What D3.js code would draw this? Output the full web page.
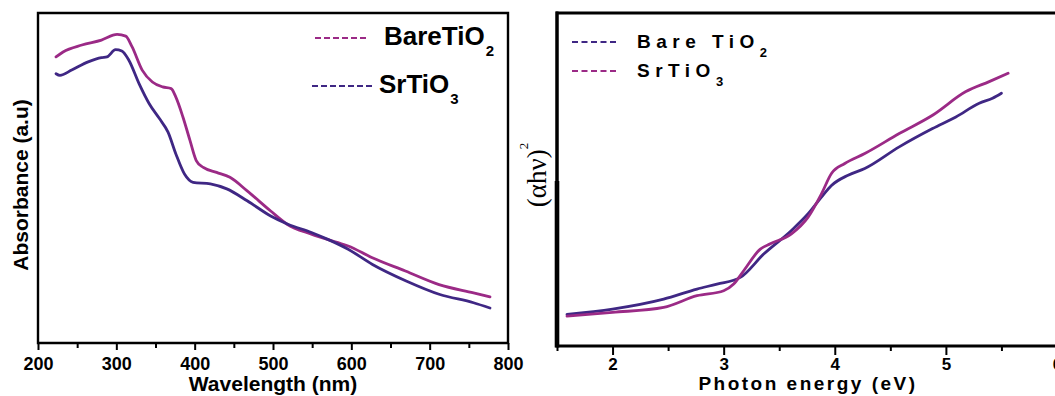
<!DOCTYPE html>
<html>
<head>
<meta charset="utf-8">
<script src="https://cdn.jsdelivr.net/npm/d3@7"></script>
<style>
body { margin: 0; background: #fff; }
svg { display: block; font-family: Arial, "Liberation Sans", sans-serif; }
</style>
</head>
<body>
<svg width="1055" height="396"></svg>
<script>
// Left panel: UV-Vis absorbance spectra
const wavelengthBare = [223, 232, 256, 281, 301, 312, 320, 333, 346, 359, 370, 376, 385, 394, 402, 411, 428, 445, 467, 497, 518, 549, 583, 596, 626, 669, 712, 756, 777];
const absorbanceBare = [0.867, 0.882, 0.903, 0.918, 0.935, 0.930, 0.898, 0.827, 0.791, 0.776, 0.771, 0.745, 0.685, 0.614, 0.553, 0.532, 0.517, 0.502, 0.461, 0.400, 0.360, 0.330, 0.304, 0.294, 0.259, 0.218, 0.177, 0.152, 0.140];
const wavelengthSr = [223, 228, 243, 264, 281, 288, 299, 307, 316, 329, 342, 355, 366, 376, 387, 398, 420, 441, 467, 497, 519, 549, 570, 596, 627, 670, 713, 756, 777];
const absorbanceSr = [0.816, 0.811, 0.827, 0.852, 0.865, 0.867, 0.889, 0.885, 0.857, 0.786, 0.725, 0.680, 0.639, 0.573, 0.512, 0.487, 0.482, 0.467, 0.431, 0.385, 0.360, 0.335, 0.314, 0.284, 0.238, 0.188, 0.147, 0.122, 0.106];
const wavelengthTicks = [200, 300, 400, 500, 600, 700, 800];
const wavelengthMinor = [250, 350, 450, 550, 650, 750];

// Right panel: Tauc plot
const energyBare = [1.59, 2.0, 2.46, 2.76, 2.94, 3.15, 3.36, 3.61, 3.76, 3.88, 3.97, 4.12, 4.27, 4.58, 4.88, 5.09, 5.30, 5.42, 5.50];
const taucBare = [0.095, 0.111, 0.141, 0.171, 0.186, 0.206, 0.276, 0.347, 0.397, 0.447, 0.482, 0.513, 0.533, 0.598, 0.653, 0.688, 0.729, 0.744, 0.759];
const energySr = [1.59, 2.0, 2.46, 2.76, 3.0, 3.09, 3.18, 3.33, 3.42, 3.61, 3.76, 3.88, 3.97, 4.09, 4.27, 4.58, 4.88, 5.18, 5.39, 5.56];
const taucSr = [0.090, 0.101, 0.116, 0.151, 0.166, 0.186, 0.226, 0.291, 0.307, 0.337, 0.387, 0.457, 0.518, 0.548, 0.578, 0.638, 0.693, 0.764, 0.794, 0.819];
const energyTicks = [2, 3, 4, 5, 6];
const energyMinor = [1.5, 2.5, 3.5, 4.5, 5.5];

const magenta = '#9b2a86';
const indigo = '#3f2784';

const svg = d3.select('svg');

function zip(xs, ys)
{
    return xs.map((x, i) => [x, ys[i]]);
}

function drawCurve(x, y, points, color)
{
    const line = d3.line()
        .x(d => x(d[0]))
        .y(d => y(d[1]))
        .curve(d3.curveMonotoneX);
    svg.append('path')
        .datum(points)
        .attr('d', line)
        .attr('fill', 'none')
        .attr('stroke', color)
        .attr('stroke-width', 2.8)
        .attr('stroke-linejoin', 'round')
        .attr('stroke-linecap', 'round');
}

function box(x0, y0, x1, y1, width)
{
    svg.append('path')
        .attr('d', 'M' + x0 + ',' + y0 + 'H' + x1 + 'V' + y1 + 'H' + x0 + 'Z')
        .attr('fill', 'none')
        .attr('stroke', '#000')
        .attr('stroke-width', width);
}

function bar(x, y, w, h)
{
    svg.append('rect')
        .attr('x', x).attr('y', y)
        .attr('width', w).attr('height', h)
        .attr('fill', '#000');
}

function drawAxis(x, yPos, ticks, minor, tickLen, padding, fontSize)
{
    const major = svg.append('g')
        .attr('transform', 'translate(0,' + yPos + ')')
        .call(d3.axisBottom(x).tickValues(ticks).tickSize(tickLen).tickSizeOuter(0).tickPadding(padding).tickFormat(d3.format('d')));
    major.select('.domain').remove();
    major.selectAll('line').attr('stroke', '#000').attr('stroke-width', 2);
    major.selectAll('text')
        .attr('fill', '#000')
        .style('font-size', fontSize + 'px')
        .style('font-weight', 'bold')
        .style('font-family', 'Arial, "Liberation Sans", sans-serif');

    const small = svg.append('g')
        .attr('transform', 'translate(0,' + yPos + ')')
        .call(d3.axisBottom(x).tickValues(minor).tickSize(5).tickSizeOuter(0).tickFormat(''));
    small.select('.domain').remove();
    small.selectAll('line').attr('stroke', '#000').attr('stroke-width', 2);
}

function legendEntry(x1, x2, yLine, color, dash, tx, ty, label, sub, opts)
{
    svg.append('line')
        .attr('x1', x1).attr('x2', x2)
        .attr('y1', yLine).attr('y2', yLine)
        .attr('stroke', color)
        .attr('stroke-width', 2.2)
        .attr('stroke-dasharray', dash);
    const t = svg.append('text')
        .attr('x', tx).attr('y', ty)
        .attr('fill', '#000')
        .style('font-size', opts.size + 'px')
        .style('font-weight', 'bold')
        .style('letter-spacing', opts.spacing + 'px')
        .text(label);
    t.append('tspan')
        .attr('dx', opts.subDx)
        .attr('dy', opts.subDy)
        .style('font-size', opts.subSize + 'px')
        .text(sub);
}

// ---- left panel ----
const xL = d3.scaleLinear().domain([200, 800]).range([38, 508]);
const yL = d3.scaleLinear().domain([0, 1]).range([343, 13]);

drawCurve(xL, yL, zip(wavelengthBare, absorbanceBare), magenta);
drawCurve(xL, yL, zip(wavelengthSr, absorbanceSr), indigo);

box(xL(200), yL(1), xL(800), yL(0), 2.4);

drawAxis(xL, 343, wavelengthTicks, wavelengthMinor, 7, 7, 18);

svg.append('text')
    .attr('x', 273).attr('y', 391)
    .attr('text-anchor', 'middle')
    .style('font-size', '21px')
    .style('font-weight', 'bold')
    .text('Wavelength (nm)');

svg.append('text')
    .attr('transform', 'translate(28,185) rotate(-90)')
    .attr('text-anchor', 'middle')
    .style('font-size', '21px')
    .style('font-weight', 'bold')
    .text('Absorbance (a.u)');

legendEntry(315, 367, 38, magenta, '6,3', 384, 45, 'BareTiO', '2',
    {size: 26, spacing: 0, subDx: 1, subDy: 11, subSize: 15});
legendEntry(312, 373, 86, indigo, '6,3', 379, 93, 'SrTiO', '3',
    {size: 26, spacing: 0, subDx: 1, subDy: 11, subSize: 15});

// ---- right panel ----
const xR = d3.scaleLinear().domain([1.5, 6]).range([557, 1057]);
const yR = d3.scaleLinear().domain([0, 1]).range([346, 13]);

drawCurve(xR, yR, zip(energyBare, taucBare), indigo);
drawCurve(xR, yR, zip(energySr, taucSr), magenta);

box(xR(1.5), yR(1), xR(6), yR(0), 3);

// left spine: thinner upper half, heavier lower half
bar(xR(1.5) - 1.5, yR(1) - 1.5, 3, 181 - yR(1) + 1.5);
bar(xR(1.5) - 2.3, 181, 4.6, yR(0) - 181 + 1.5);

drawAxis(xR, 346, energyTicks, energyMinor, 9, 3, 17);

svg.append('text')
    .attr('x', 808).attr('y', 390)
    .attr('text-anchor', 'middle')
    .style('font-size', '19px')
    .style('font-weight', 'bold')
    .style('letter-spacing', '2.5px')
    .text('Photon energy (eV)');

const tauc = svg.append('text')
    .attr('transform', 'translate(546,175) rotate(-90)')
    .attr('text-anchor', 'middle')
    .style('font-family', '"Liberation Serif", "Times New Roman", serif')
    .style('font-size', '27px')
    .text('(αhν)');
tauc.append('tspan')
    .attr('dy', -18)
    .style('font-size', '13px')
    .text('2');

legendEntry(572, 618, 42, indigo, '6,3.5', 637, 48, 'Bare TiO', '2',
    {size: 19, spacing: 5.5, subDx: 0, subDy: 9, subSize: 13});
legendEntry(572, 618, 71, magenta, '6,3.5', 637, 77, 'SrTiO', '3',
    {size: 19, spacing: 5.5, subDx: 0, subDy: 9, subSize: 13});
</script>
</body>
</html>
